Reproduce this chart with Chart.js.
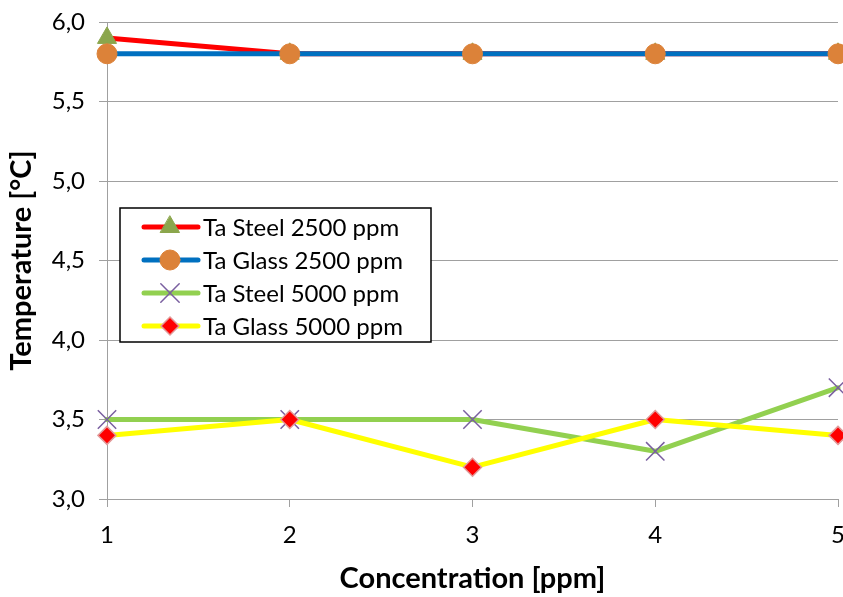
<!DOCTYPE html>
<html>
<head>
<meta charset="utf-8">
<script src="https://cdn.jsdelivr.net/npm/chart.js@4/dist/chart.umd.min.js"></script>
<style>
  html, body { margin: 0; padding: 0; background: #fff; }
  #wrap { width: 843px; height: 597px; }
</style>
</head>
<body>
<div id="wrap"><canvas id="c" width="843" height="597"></canvas></div>
<script>
// Concentration steps on the x axis
const concentrations = [1, 2, 3, 4, 5];

// Measured temperatures [°C]
const taSteel2500 = [5.9, 5.8, 5.8, 5.8, 5.8];
const taGlass2500 = [5.8, 5.8, 5.8, 5.8, 5.8];
const taSteel5000 = [3.5, 3.5, 3.5, 3.3, 3.7];
const taGlass5000 = [3.4, 3.5, 3.2, 3.5, 3.4];

const seriesLabels = ['Ta Steel 2500 ppm', 'Ta Glass 2500 ppm', 'Ta Steel 5000 ppm', 'Ta Glass 5000 ppm'];
const yTicks = [3.0, 3.5, 4.0, 4.5, 5.0, 5.5, 6.0];

const FONT = 'Lato, "Open Sans", sans-serif';

function pts(values) {
  return concentrations.map((x, i) => ({ x: x, y: values[i] }));
}

const datasets = [
  {
    label: seriesLabels[0], data: pts(taSteel2500),
    borderColor: '#FF0000', borderWidth: 5,
    pointStyle: 'triangle', pointRadius: 11, pointBackgroundColor: '#8BA64C',
    pointBorderColor: '#8BA64C', pointBorderWidth: 1, order: 4
  },
  {
    label: seriesLabels[1], data: pts(taGlass2500),
    borderColor: '#0070C0', borderWidth: 5,
    pointStyle: 'circle', pointRadius: 10, pointBackgroundColor: '#DC8239',
    pointBorderColor: '#DC8239', pointBorderWidth: 1, order: 3
  },
  {
    label: seriesLabels[2], data: pts(taSteel5000),
    borderColor: '#92D050', borderWidth: 5,
    pointStyle: 'crossRot', pointRadius: 13, pointBackgroundColor: '#7A5FA0',
    pointBorderColor: '#7A5FA0', pointBorderWidth: 1.5, order: 2
  },
  {
    label: seriesLabels[3], data: pts(taGlass5000),
    borderColor: '#FFFF00', borderWidth: 5,
    pointStyle: 'rectRot', pointRadius: 9, pointBackgroundColor: '#FF0000',
    pointBorderColor: '#E29A9A', pointBorderWidth: 1.5, order: 1
  }
];
datasets.forEach(d => { d.tension = 0; d.fill = false; d.borderCapStyle = 'round'; d.borderJoinStyle = 'round'; d.pointHoverRadius = d.pointRadius; });

// Boxed legend drawn inside the plot area
const innerLegend = {
  id: 'innerLegend',
  afterDraw(chart) {
    const ctx = chart.ctx;
    const area = chart.chartArea;
    const left = area.left + 13, top = area.top + 186;
    const w = 311, h = 134;
    ctx.save();
    ctx.fillStyle = '#fff';
    ctx.fillRect(left, top, w, h);
    ctx.strokeStyle = '#000';
    ctx.lineWidth = 1.5;
    ctx.strokeRect(left, top, w, h);
    chart.data.datasets.forEach((ds, i) => {
      const y = top + 19 + i * 33;
      ctx.strokeStyle = ds.borderColor;
      ctx.lineWidth = 5;
      ctx.lineCap = 'round';
      ctx.beginPath();
      ctx.moveTo(left + 24, y);
      ctx.lineTo(left + 78, y);
      ctx.stroke();
      ctx.fillStyle = ds.pointBackgroundColor;
      ctx.strokeStyle = ds.pointBorderColor;
      ctx.lineWidth = ds.pointBorderWidth;
      Chart.helpers.drawPoint(ctx, { pointStyle: ds.pointStyle, radius: ds.pointRadius, rotation: 0, borderWidth: ds.pointBorderWidth }, left + 50, y);
      ctx.fillStyle = '#000';
      ctx.font = '24px ' + FONT;
      ctx.textAlign = 'left';
      ctx.textBaseline = 'middle';
      ctx.fillText(ds.label, left + 83, y + 1);
    });
    ctx.restore();
  }
};

new Chart(document.getElementById('c'), {
  type: 'line',
  data: { datasets: datasets },
  plugins: [innerLegend],
  options: {
    responsive: false,
    animation: false,
    clip: false,
    layout: { autoPadding: false, padding: { top: 22, right: 5, left: 0, bottom: 0 } },
    plugins: { legend: { display: false }, tooltip: { enabled: false } },
    scales: {
      x: {
        type: 'linear', min: 1, max: 5,
        afterBuildTicks(scale) { scale.ticks = concentrations.map(v => ({ value: v })); },
        afterFit(scale) { scale.height = 98; scale.paddingLeft = 0; scale.paddingRight = 0; },
        grid: { drawOnChartArea: false, color: '#A0A0A0', tickLength: 8, lineWidth: 1 },
        border: { color: '#A0A0A0', width: 1 },
        ticks: { color: '#000', font: { family: FONT, size: 24 }, padding: 14, maxRotation: 0,
                 callback: v => String(v) },
        title: { display: true, text: 'Concentration [ppm]', color: '#000',
                 font: { family: FONT, size: 29, weight: 'bold' }, padding: { top: 4, bottom: 1 } }
      },
      y: {
        min: 3, max: 6,
        afterBuildTicks(scale) { scale.ticks = yTicks.map(v => ({ value: v })); },
        afterFit(scale) { scale.width = 107; scale.paddingTop = 0; scale.paddingBottom = 0; },
        grid: { color: '#A0A0A0', tickLength: 8, lineWidth: 1 },
        border: { color: '#A0A0A0', width: 1 },
        ticks: { color: '#000', font: { family: FONT, size: 24 }, padding: 14,
                 callback: v => Number(v).toFixed(1).replace('.', ',') },
        title: { display: true, text: 'Temperature [°C]', color: '#000',
                 font: { family: FONT, size: 29, weight: 'bold' }, padding: { bottom: 4 } }
      }
    }
  }
});
</script>
</body>
</html>
